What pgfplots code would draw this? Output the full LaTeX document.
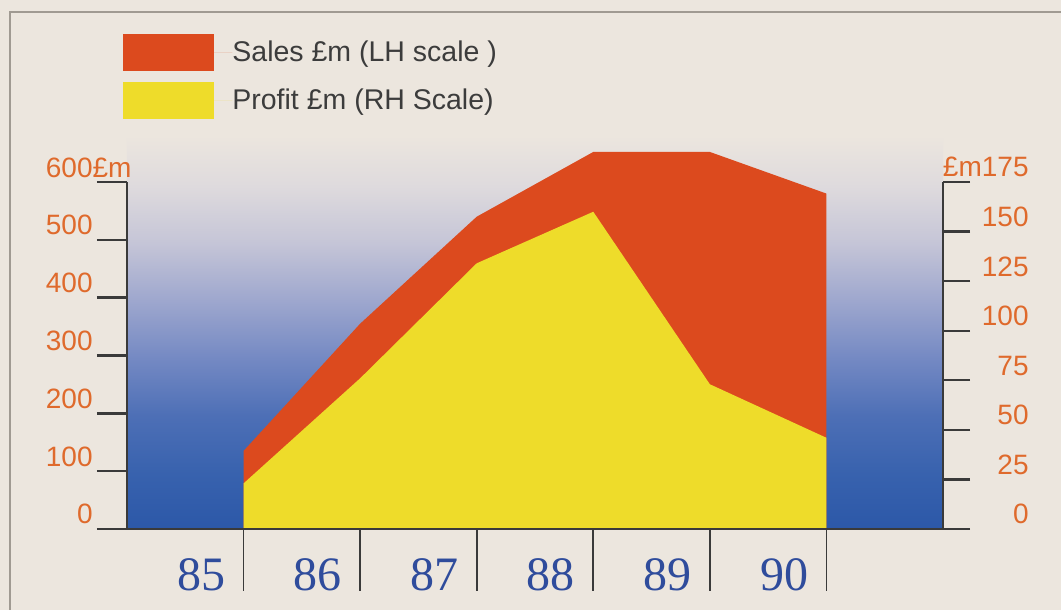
\documentclass[border=0pt]{standalone}
\usepackage{pgfplots}
\usepackage{pgfplotstable}
\pgfplotsset{compat=1.18}
\usepackage{fontspec}
\setmainfont{Liberation Sans}
\newfontfamily\yearfont{Liberation Serif}
\definecolor{bg}{HTML}{ECE6DE}
\definecolor{salesred}{HTML}{DC4A1E}
\definecolor{profityellow}{HTML}{EEDC2A}
\definecolor{axisgray}{HTML}{3A3A3A}
\definecolor{lblorange}{HTML}{DF6A2C}
\definecolor{yearblue}{HTML}{2F4C9C}
\definecolor{txtgray}{HTML}{3C3C3C}
\definecolor{bordergray}{HTML}{A09A92}
\definecolor{g0}{HTML}{2C58A8}
\definecolor{g1}{HTML}{3862AE}
\definecolor{g2}{HTML}{4D6FB6}
\definecolor{g3}{HTML}{7489C3}
\definecolor{g4}{HTML}{9EA7CE}
\definecolor{g5}{HTML}{C5C5D7}
\definecolor{g6}{HTML}{DEDADD}
\pgfdeclareverticalshading{panel}{100bp}{color(0bp)=(g0); color(25bp)=(g0); color(31.5bp)=(g1); color(38.2bp)=(g2); color(44.9bp)=(g3); color(51.7bp)=(g4); color(58.4bp)=(g5); color(65bp)=(g6); color(71bp)=(bg); color(100bp)=(bg)}

\pgfplotstableread{
x sales profit
1 135 23
2 355 76
3 540 134
4 652 160
5 652 73
6 580 46
}\datatable

\begin{document}
\begin{tikzpicture}
\fill[bg] (-63.5pt,-40.5pt) rectangle (467pt,264.5pt);
\draw[bordergray, line width=1pt] (-58.5pt,-40.5pt) -- (-58.5pt,258.5pt) -- (467pt,258.5pt);
\pgfplotsset{base/.style={scale only axis, width=408pt, height=173.5pt,
  xmin=0, xmax=7, clip=false, axis on top, tick align=outside,
  /pgf/number format/assume math mode=true}}
% left scale: sales
\begin{axis}[base, ymin=0, ymax=600,
  axis x line*=bottom, axis y line*=left,
  axis line style={line width=1.2pt, axisgray, -},
  xtick=\empty,
  ytick={0,100,...,600},
  yticklabels={0,100,200,300,400,500,{600\rlap{£m}}},
  major tick length=15pt,
  y tick style={line width=1.2pt, axisgray},
  yticklabel style={anchor=base east, inner sep=0pt, font=\fontsize{14}{16}\selectfont, text=lblorange, xshift=-2pt, yshift=2.5pt},
  legend image code/.code={\fill[#1] (0pt,-9.25pt) rectangle (45.5pt,9.25pt); \path (0pt,0pt) -- (54.5pt,0pt);},
  legend style={at={(-0.0049,1.4265)}, anchor=north west, draw=none, fill=none, inner sep=0pt, row sep=5.5pt,
    font=\fontsize{14.25}{16}\selectfont, text=txtgray, nodes={inner sep=0pt, anchor=west}},
]
\shade[shading=panel] (axis cs:0,0) rectangle (axis cs:7,740);
\addplot[fill=salesred, draw=none] table[x=x,y=sales]{\datatable} \closedcycle;
\addlegendentry{Sales £m (LH scale )}
\addlegendimage{fill=profityellow, draw=none}
\addlegendentry{Profit £m (RH Scale)}
\end{axis}
% right scale: profit
\begin{axis}[base, ymin=0, ymax=175,
  axis x line*=bottom, axis y line*=right,
  axis line style={line width=1.2pt, axisgray, -},
  xtick=\empty,
  ytick={0,25,...,175},
  yticklabels={0,25,50,75,100,125,150,{\llap{£m}175}},
  major tick length=13.5pt,
  y tick style={line width=1.2pt, axisgray},
  yticklabel style={anchor=base east, inner sep=0pt, font=\fontsize{14}{16}\selectfont, text=lblorange, xshift=29.5pt, yshift=2.5pt},
]
\addplot[fill=profityellow, draw=none] table[x=x,y=profit]{\datatable} \closedcycle;
\end{axis}
% year ticks
\begin{axis}[base, ymin=0, ymax=600,
  axis x line*=bottom, axis y line=none,
  axis line style={draw=none},
  xtick={1,...,6}, xticklabels={85,86,87,88,89,90},
  major tick length=31pt,
  x tick style={line width=0.8pt, axisgray},
  xticklabel style={anchor=base east, inner sep=0pt, font=\yearfont\fontsize{24}{26}\selectfont, text=yearblue, xshift=-9pt, yshift=0.5pt},
]
\end{axis}
\pgfresetboundingbox
\path (-63.5pt,-40.5pt) rectangle (467pt,264.5pt);
\end{tikzpicture}
\end{document}
